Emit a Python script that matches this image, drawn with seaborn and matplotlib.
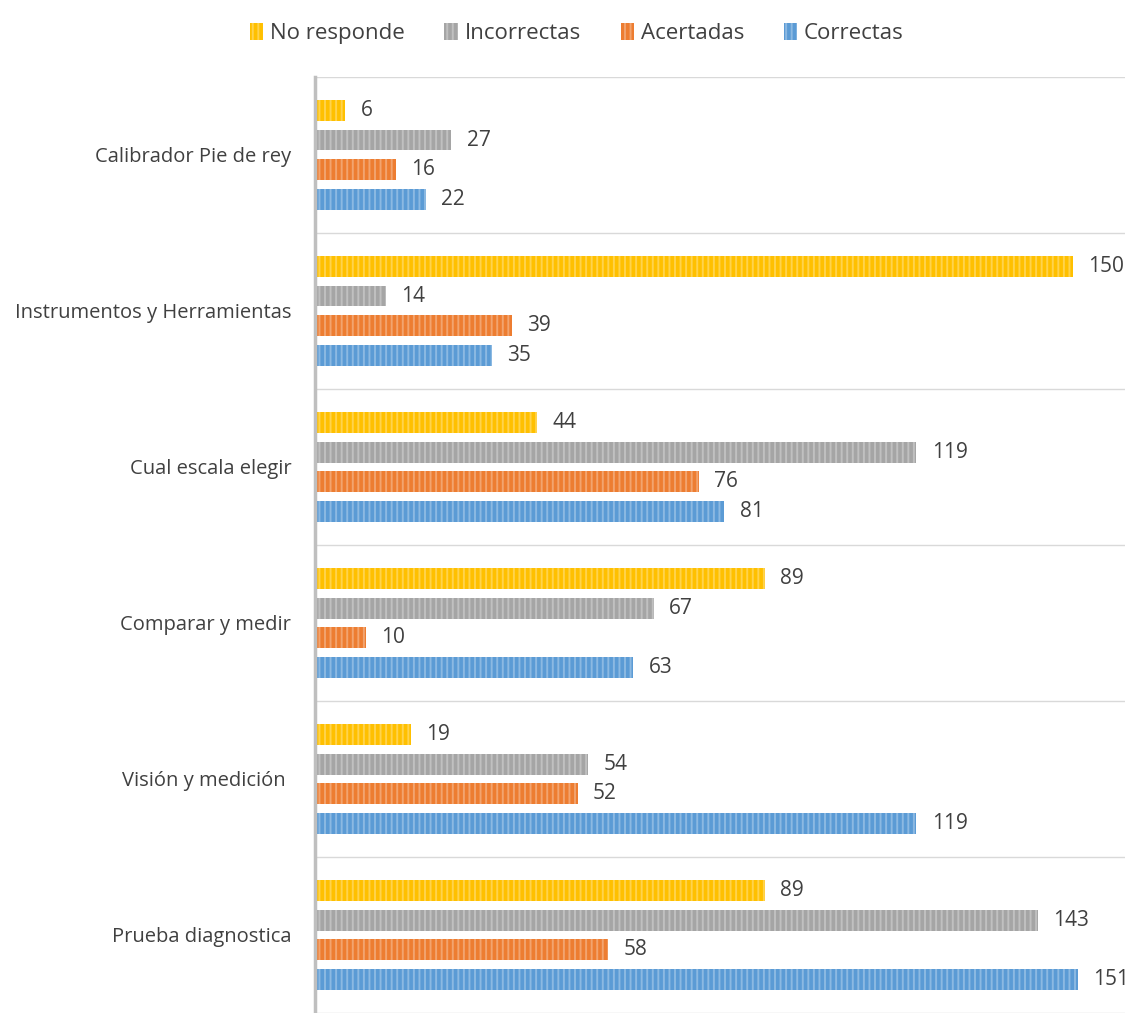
import matplotlib
matplotlib.use("Agg")
import matplotlib.pyplot as plt
import matplotlib.colors as mcolors
import seaborn as sns
import pandas as pd
import numpy as np

categories = ["Calibrador Pie de rey", "Instrumentos y Herramientas", "Cual escala elegir",
              "Comparar y medir", "Visión y medición ", "Prueba diagnostica"]
series = ["No responde", "Incorrectas", "Acertadas", "Correctas"]
no_responde = [6, 150, 44, 89, 19, 89]
incorrectas = [27, 14, 119, 67, 54, 143]
acertadas = [16, 39, 76, 10, 52, 58]
correctas = [22, 35, 81, 63, 119, 151]
colors = ["#FFC000", "#A5A5A5", "#ED7D31", "#5B9BD5"]

values = {"No responde": no_responde, "Incorrectas": incorrectas,
          "Acertadas": acertadas, "Correctas": correctas}
rows = []
for s in series:
    for c, v in zip(categories, values[s]):
        rows.append({"categoria": c, "serie": s, "valor": v})
df = pd.DataFrame(rows)

sns.set_theme(style="white")
plt.rcParams["font.family"] = ["Open Sans", "DejaVu Sans"]
plt.rcParams["hatch.linewidth"] = 1.4

fig = plt.figure(figsize=(11.33, 10.13), dpi=100)
ax = fig.add_axes([0.278, 0.0, 0.715, 0.924])

sns.barplot(data=df, y="categoria", x="valor", hue="serie", order=categories,
            hue_order=series, palette=colors, saturation=1, orient="h",
            width=0.768, gap=0.3, hatch="|||", linewidth=0, ax=ax, legend=False)

def lighten(col, amt):
    r, g, b = mcolors.to_rgb(col)
    return (r + (1 - r) * amt, g + (1 - g) * amt, b + (1 - b) * amt)

for cont, col in zip(ax.containers, colors):
    for bar in cont:
        bar.set_edgecolor(lighten(col, 0.3))
        bar.set_linewidth(0)
    ax.bar_label(cont, padding=11, fontsize=15, color="#404040")

ax.set_xlim(0, 160.3)
ax.set_ylim(len(categories) - 0.5, -0.5)
ax.set_xlabel("")
ax.set_ylabel("")
ax.set_xticks([])
ax.tick_params(axis="y", length=0, labelsize=14.5, labelcolor="#404040", pad=17)

# separators between category bands
for yb in np.arange(-0.5, len(categories), 1.0):
    ax.axhline(yb, color="#D9D9D9", linewidth=1, zorder=0)

for side in ["top", "right", "bottom"]:
    ax.spines[side].set_visible(False)
ax.spines["left"].set_color("#BFBFBF")
ax.spines["left"].set_linewidth(2.5)

handles = [plt.Rectangle((0, 0), 1, 1, facecolor=c, edgecolor=lighten(c, 0.3),
                         hatch="|||", linewidth=0) for c in colors]
fig.legend(handles, series, loc="upper center", bbox_to_anchor=(0.509, 0.997), ncol=4,
           frameon=False, fontsize=16, handlelength=0.6, handleheight=0.8,
           handletextpad=0.3, columnspacing=1.8, labelcolor="#404040")

fig.savefig("out.png", dpi=100)
